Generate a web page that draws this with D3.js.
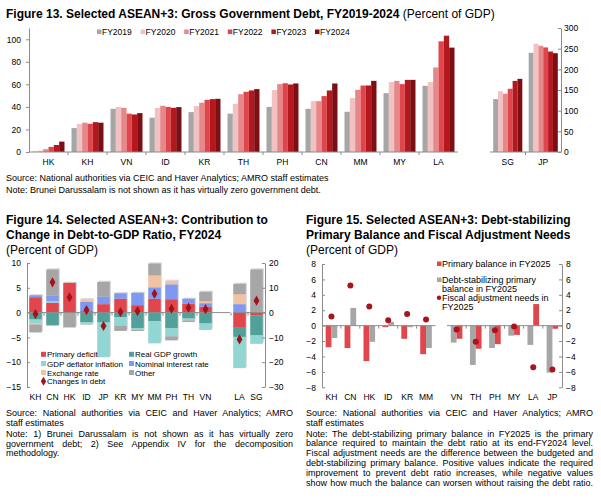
<!DOCTYPE html>
<html>
<head>
<meta charset="utf-8">
<script src="https://cdn.jsdelivr.net/npm/d3@7"></script>
<style>
body { margin: 0; background: #fff; }
text { font-family: "Liberation Sans", Arial, sans-serif; fill: #000; }
</style>
</head>
<body>
<svg id="chart" width="601" height="501"></svg>
<script>
// ---- Figure 13 data: gross government debt, % of GDP
var years = ["FY2019", "FY2020", "FY2021", "FY2022", "FY2023", "FY2024"];
var debtCountries = ["HK", "KH", "VN", "ID", "KR", "TH", "PH", "CN", "MM", "MY", "LA"];
var debtCountriesRight = ["SG", "JP"];
// order: HK KH VN ID KR TH PH CN MM MY LA | SG JP
var debt2019 = [0.3, 21.2, 38.3, 30.4, 35.4, 34.0, 40.0, 38.3, 35.7, 52.2, 58.7, 128, 240];
var debt2020 = [1.3, 24.8, 40.0, 39.0, 40.7, 42.8, 54.9, 45.1, 47.8, 62.0, 62.0, 147, 262];
var debt2021 = [2.5, 26.0, 39.2, 41.0, 43.7, 51.3, 60.2, 45.1, 55.2, 63.1, 75.0, 141, 257];
var debt2022 = [4.5, 25.0, 34.0, 40.0, 46.3, 53.4, 61.0, 49.6, 59.0, 60.2, 98.2, 153, 253];
var debt2023 = [6.2, 26.5, 33.3, 39.2, 46.9, 54.6, 59.9, 54.6, 59.0, 64.0, 103.2, 172, 243];
var debt2024 = [9.2, 26.0, 34.5, 39.8, 47.2, 55.8, 60.8, 60.8, 63.1, 64.0, 92.6, 177, 239];
var leftTicks13 = [0, 20, 40, 60, 80, 100];
var rightTicks13 = [0, 50, 100, 150, 200, 250, 300];

// ---- Figure 14 data: contributions to change in debt, FY2024
var contribCountries = ["KH", "CN", "HK", "ID", "JP", "KR", "MY", "MM", "PH", "TH", "VN", "LA", "SG"];
var primaryDeficit  = [3.1, 2.0, 6.0, 0.3, 1.7, 2.8, 1.5, 2.8, 2.7, 1.8, 1.2, -2.9, -0.6];
var realGdpGrowth   = [-1.4, -2.6, 0, -1.9, -2.0, -0.9, -3.1, -1.7, -3.1, -1.2, -2.2, -2.0, -4.0];
var deflator        = [-0.7, 0.3, 0, -0.4, -7.0, -1.8, -0.4, -4.5, -1.7, -0.4, -1.3, -6.3, -1.7];
var interestRate    = [0.4, 1.1, 0, 1.9, 1.5, 1.1, 2.5, 2.3, 3.0, 1.0, 0.7, 1.7, 0];
var exchangeRate    = [-0.3, 0, 0, 0.5, 0, 0, 0, 2.4, 0.7, 0, 0.4, 2.0, 0];
var otherFactors    = [-1.6, 5.3, -3.0, -0.1, 3.0, -1.0, -0.2, 2.4, -0.8, -0.3, 1.9, 2.1, 8.7];
var changesInDebt   = [-0.3, 6.1, 3.1, 0.5, -2.7, 0.1, 0.3, 3.8, 0.8, 1.0, 0.7, -5.4, 2.4];
var leftTicks14 = [-15, -10, -5, 0, 5, 10];
var rightTicks14 = [-30, -20, -10, 0, 10, 20];

// ---- Figure 15 data: debt-stabilizing primary balance, FY2025
var fiscalLeft = ["KH", "CN", "HK", "ID", "KR", "MM"];
var fiscalRight = ["VN", "TH", "PH", "MY", "LA", "JP"];
var primaryBalance  = [-2.8, -2.9, -4.6, -0.2, -1.7, -3.7, -1.7, -3.0, -2.4, -1.2, 2.8, -0.4];
var stabilizingPB   = [-1.6, 2.3, -2.1, 0.5, -0.2, -2.9, -2.2, -5.1, -2.9, -1.3, -2.5, -6.1];
var adjustmentNeeds = [1.2, 5.2, 2.5, 0.7, 1.5, 0.8, -0.5, -2.1, -0.6, -0.1, -5.4, -5.7];
var ticks15 = [-8, -6, -4, -2, 0, 2, 4, 6, 8];

var svg = d3.select("#chart");
var axisColor = "#8c8c8c";
var tickFont = 8.5;
var noteFont = 9;

// a line of text, optionally fitted to a width by changing the word gaps
function textLine(g, str, x, y, size, weight, width) {
  var t = g.append("text").attr("x", x).attr("y", y)
    .style("font-size", size + "px").style("font-weight", weight || "normal").text(str);
  if (width) {
    var gaps = str.split(" ").length - 1;
    var extra = width - t.node().getComputedTextLength();
    if (gaps > 0) t.style("word-spacing", (extra / gaps) + "px");
  }
  return t;
}

function styleAxis(sel) {
  sel.selectAll("path,line").attr("stroke", axisColor);
  sel.selectAll("text").style("font-size", tickFont + "px").attr("fill", "#000");
}

// zero line with small ticks on the slot boundaries
function zeroLine(g, x, y0, from, to) {
  g.append("line").attr("x1", from).attr("x2", to).attr("y1", y0).attr("y2", y0)
    .attr("stroke", axisColor);
  x.domain().slice(1).forEach(function(d) {
    var px = x(d) - x.step() * x.paddingInner() / 2;
    g.append("line").attr("x1", px).attr("x2", px).attr("y1", y0).attr("y2", y0 + 3)
      .attr("stroke", axisColor);
  });
}

// ================= Figure 13 =================
function drawFig13() {
  var g = svg.append("g");
  var colors = ["#a6a6a6", "#f2c1c1", "#e6878a", "#df464b", "#b2181e", "#7d0f14"];
  var series = [debt2019, debt2020, debt2021, debt2022, debt2023, debt2024];

  var title = g.append("text").attr("x", 6).attr("y", 18).style("font-size", "12px");
  title.append("tspan").style("font-weight", "bold")
    .text("Figure 13. Selected ASEAN+3: Gross Government Debt, FY2019-2024");
  title.append("tspan").text(" (Percent of GDP)");

  var yL = d3.scaleLinear().domain([0, 110]).range([152, 28]);
  var yR = d3.scaleLinear().domain([0, 300]).range([152, 28]);
  var xL = d3.scaleBand().domain(debtCountries).range([29, 458]).paddingInner(0.18).paddingOuter(0.09);
  var xR = d3.scaleBand().domain(debtCountriesRight).range([490, 561]).paddingInner(0.18).paddingOuter(0.09);

  function panel(x, y, countries, offset) {
    var inner = d3.scaleBand().domain(years).range([0, x.bandwidth()]);
    countries.forEach(function(c, i) {
      g.selectAll(null).data(years).enter().append("rect")
        .attr("x", function(yr) { return x(c) + inner(yr); })
        .attr("width", inner.bandwidth())
        .attr("y", function(yr, j) { return y(series[j][i + offset]); })
        .attr("height", function(yr, j) { return y(0) - y(series[j][i + offset]); })
        .attr("fill", function(yr, j) { return colors[j]; });
    });
    zeroLine(g, x, y(0), x.range()[0], x.range()[1]);
    var ax = g.append("g").attr("transform", "translate(0," + y(0) + ")")
      .call(d3.axisBottom(x).tickSize(0).tickPadding(7));
    ax.select(".domain").remove();
    styleAxis(ax);
  }
  panel(xL, yL, debtCountries, 0);
  panel(xR, yR, debtCountriesRight, debtCountries.length);

  var axL = g.append("g").attr("transform", "translate(29,0)")
    .call(d3.axisLeft(yL).tickValues(leftTicks13).tickSizeInner(3).tickSizeOuter(0).tickPadding(5));
  styleAxis(axL);
  var axR = g.append("g").attr("transform", "translate(561,0)")
    .call(d3.axisRight(yR).tickValues(rightTicks13).tickSizeInner(-3).tickSizeOuter(0).tickPadding(3));
  styleAxis(axR);

  // legend
  var lx = d3.scalePoint().domain(years).range([97, 315]);
  years.forEach(function(yr, j) {
    g.append("rect").attr("x", lx(yr)).attr("y", 29.5).attr("width", 4.5).attr("height", 4.5)
      .attr("fill", colors[j]);
    textLine(g, yr, lx(yr) + 5, 35, 8.5);
  });

  textLine(g, "Source: National authorities via CEIC and Haver Analytics; AMRO staff estimates", 6, 181, noteFont);
  textLine(g, "Note: Brunei Darussalam is not shown as it has virtually zero government debt.", 6, 192.5, noteFont);
}

// ================= Figure 14 =================
function drawFig14() {
  var g = svg.append("g");
  var keys = ["primary", "growth", "deflator", "interest", "fx", "other"];
  var names = ["Primary deficit", "Real GDP growth", "GDP deflator inflation",
               "Nominal interest rate", "Exchange rate", "Other"];
  var colors = ["#e0464b", "#52a09a", "#91d6d3", "#7f98f2", "#f2c3a3", "#a6a6a6"];
  var color = d3.scaleOrdinal().domain(keys).range(colors);

  textLine(g, "Figure 14. Selected ASEAN+3: Contribution to", 6, 224, 12, "bold");
  textLine(g, "Change in Debt-to-GDP Ratio, FY2024", 6, 239, 12, "bold");
  textLine(g, "(Percent of GDP)", 6, 253.5, 12);

  var rows = contribCountries.map(function(c, i) {
    return { country: c, primary: primaryDeficit[i], growth: realGdpGrowth[i], deflator: deflator[i],
             interest: interestRate[i], fx: exchangeRate[i], other: otherFactors[i] };
  });
  var stacked = d3.stack().keys(keys).offset(d3.stackOffsetDiverging)(rows);

  var slots = contribCountries.slice(0, 11).concat([" "], contribCountries.slice(11));
  var x = d3.scaleBand().domain(slots).range([27, 265]).paddingInner(0.26).paddingOuter(0.13);
  var y = d3.scaleLinear().domain([-15, 10]).range([387, 263]);
  var y2 = d3.scaleLinear().domain([-30, 20]).range([387, 263]);

  // pale shadow behind each column
  g.selectAll(".shadow").data(rows).enter().append("rect")
    .attr("x", function(d) { return x(d.country) + 1.2; })
    .attr("width", x.bandwidth())
    .attr("y", function(d) { return y(d3.max(stacked, function(s) { return s[rows.indexOf(d)][1]; })) - 1.2; })
    .attr("height", function(d) {
      var i = rows.indexOf(d);
      var top = d3.max(stacked, function(s) { return s[i][1]; });
      var bot = d3.min(stacked, function(s) { return s[i][0]; });
      return y(bot) - y(top);
    })
    .attr("fill", "#dcdcdc");

  g.selectAll(".layer").data(stacked).enter().append("g")
    .attr("fill", function(d) { return color(d.key); })
    .selectAll("rect").data(function(d) { return d; }).enter().append("rect")
    .attr("x", function(d) { return x(d.data.country); })
    .attr("width", x.bandwidth())
    .attr("y", function(d) { return y(Math.max(d[0], d[1])); })
    .attr("height", function(d) { return Math.abs(y(d[0]) - y(d[1])); });

  var z = y(0);
  g.append("line").attr("x1", 27).attr("x2", 230).attr("y1", z).attr("y2", z).attr("stroke", axisColor);
  g.append("line").attr("x1", 233).attr("x2", 265).attr("y1", z).attr("y2", z).attr("stroke", axisColor);
  slots.slice(1).forEach(function(d, i) {
    if (i === 10) return;
    var px = x(d) - x.step() * x.paddingInner() / 2;
    g.append("line").attr("x1", px).attr("x2", px).attr("y1", z).attr("y2", z + 3).attr("stroke", axisColor);
  });

  g.selectAll(".dot").data(rows).enter().append("path")
    .attr("d", d3.symbol(d3.symbolDiamond, 30))
    .attr("transform", function(d, i) {
      return "translate(" + (x(d.country) + x.bandwidth() / 2) + "," + y(changesInDebt[i]) + ")";
    })
    .attr("fill", "#a3121a");

  var axX = g.append("g").attr("transform", "translate(0,387)")
    .call(d3.axisBottom(x).tickSize(0).tickPadding(7));
  axX.select(".domain").remove();
  styleAxis(axX);
  var axL = g.append("g").attr("transform", "translate(27,0)")
    .call(d3.axisLeft(y).tickValues(leftTicks14).tickSizeInner(-3).tickSizeOuter(0).tickPadding(6));
  styleAxis(axL);
  var axR = g.append("g").attr("transform", "translate(265,0)")
    .call(d3.axisRight(y2).tickValues(rightTicks14).tickSizeInner(-3).tickSizeOuter(0).tickPadding(4));
  styleAxis(axR);

  // legend
  var rowY = [354.3, 363.5, 372.5, 381.3];
  var colX = [41, 129];
  names.forEach(function(n, i) {
    var cx = colX[i % 2], cy = rowY[Math.floor(i / 2)];
    g.append("rect").attr("x", cx).attr("y", cy - 2.5).attr("width", 5).attr("height", 5).attr("fill", colors[i]);
    textLine(g, n, cx + 6, cy + 3, 8);
  });
  g.append("path").attr("d", d3.symbol(d3.symbolDiamond, 24))
    .attr("transform", "translate(43.5," + rowY[3] + ")").attr("fill", "#a3121a");
  textLine(g, "Changes in debt", 47, rowY[3] + 3, 8);

  var w = 287;
  textLine(g, "Source: National authorities via CEIC and Haver Analytics; AMRO", 6, 415.5, noteFont, null, w);
  textLine(g, "staff estimates", 6, 425.5, noteFont);
  textLine(g, "Note: 1) Brunei Darussalam is not shown as it has virtually zero", 6, 436.5, noteFont, null, w);
  textLine(g, "government debt; 2) See Appendix IV for the decomposition", 6, 446.5, noteFont, null, w);
  textLine(g, "methodology.", 6, 456.2, noteFont);
}

// ================= Figure 15 =================
function drawFig15() {
  var g = svg.append("g");
  var red = "#e0464b", grey = "#a6a6a6", dotColor = "#a8141b";

  textLine(g, "Figure 15. Selected ASEAN+3: Debt-stabilizing", 306, 224, 12, "bold");
  textLine(g, "Primary Balance and Fiscal Adjustment Needs", 306, 239, 12, "bold");
  textLine(g, "(Percent of GDP)", 306, 253.5, 12);

  var y = d3.scaleLinear().domain([-8, 8]).range([387.3, 264]);
  var xL = d3.scaleBand().domain(fiscalLeft).range([322, 435.5]);
  var xR = d3.scaleBand().domain(fiscalRight).range([447, 562]);
  var bw = 5.8;

  function panel(x, countries, offset, redFirst) {
    countries.forEach(function(c, i) {
      var k = i + offset;
      var cx = x(c) + x.bandwidth() / 2;
      var bars = [{ v: primaryBalance[k], fill: red }, { v: stabilizingPB[k], fill: grey }];
      if (!redFirst) bars.reverse();
      g.selectAll(null).data(bars).enter().append("rect")
        .attr("x", function(d, j) { return cx - bw + j * bw; })
        .attr("width", bw)
        .attr("y", function(d) { return y(Math.max(0, d.v)); })
        .attr("height", function(d) { return Math.abs(y(d.v) - y(0)); })
        .attr("fill", function(d) { return d.fill; });
    });
    zeroLine(g, x, y(0), x.range()[0], x.range()[1]);
    g.selectAll(null).data(countries).enter().append("circle")
      .attr("cx", function(c) { return x(c) + x.bandwidth() / 2; })
      .attr("cy", function(c, i) { return y(adjustmentNeeds[i + offset]); })
      .attr("r", 3).attr("fill", dotColor);
    var ax = g.append("g").attr("transform", "translate(0,387.3)")
      .call(d3.axisBottom(x).tickSize(0).tickPadding(7));
    ax.select(".domain").remove();
    styleAxis(ax);
  }
  panel(xL, fiscalLeft, 0, true);
  panel(xR, fiscalRight, fiscalLeft.length, false);

  var axL = g.append("g").attr("transform", "translate(322,0)")
    .call(d3.axisLeft(y).tickValues(ticks15).tickSizeInner(-3).tickSizeOuter(0).tickPadding(6));
  styleAxis(axL);
  var axR = g.append("g").attr("transform", "translate(562,0)")
    .call(d3.axisRight(y).tickValues(ticks15).tickSizeInner(-3).tickSizeOuter(0).tickPadding(4));
  styleAxis(axR);

  // legend
  g.append("rect").attr("x", 437).attr("y", 261.5).attr("width", 4.5).attr("height", 4.5).attr("fill", red);
  textLine(g, "Primary balance in FY2025", 442, 267, 9);
  g.append("rect").attr("x", 437).attr("y", 277.5).attr("width", 4.5).attr("height", 4.5).attr("fill", grey);
  textLine(g, "Debt-stabilizing primary", 442, 283, 9);
  textLine(g, "balance in FY2025", 442, 291.5, 9);
  g.append("circle").attr("cx", 439).attr("cy", 297.7).attr("r", 2.2).attr("fill", dotColor);
  textLine(g, "Fiscal adjustment needs in", 442, 301, 9);
  textLine(g, "FY2025", 442, 310, 9);

  var w = 287;
  textLine(g, "Source: National authorities via CEIC and Haver Analytics; AMRO", 306, 415.5, noteFont, null, w);
  textLine(g, "staff estimates", 306, 425.5, noteFont);
  var note = [
    "Note: The debt-stabilizing primary balance in FY2025 is the primary",
    "balance required to maintain the debt ratio at its end-FY2024 level.",
    "Fiscal adjustment needs are the difference between the budgeted and",
    "debt-stabilizing primary balance. Positive values indicate the required",
    "improvement to prevent debt ratio increases, while negative values",
    "show how much the balance can worsen without raising the debt ratio."
  ];
  note.forEach(function(line, i) {
    textLine(g, line, 306, 436.5 + i * 9.8, noteFont, null, w);
  });
}

drawFig13();
drawFig14();
drawFig15();
</script>
</body>
</html>
